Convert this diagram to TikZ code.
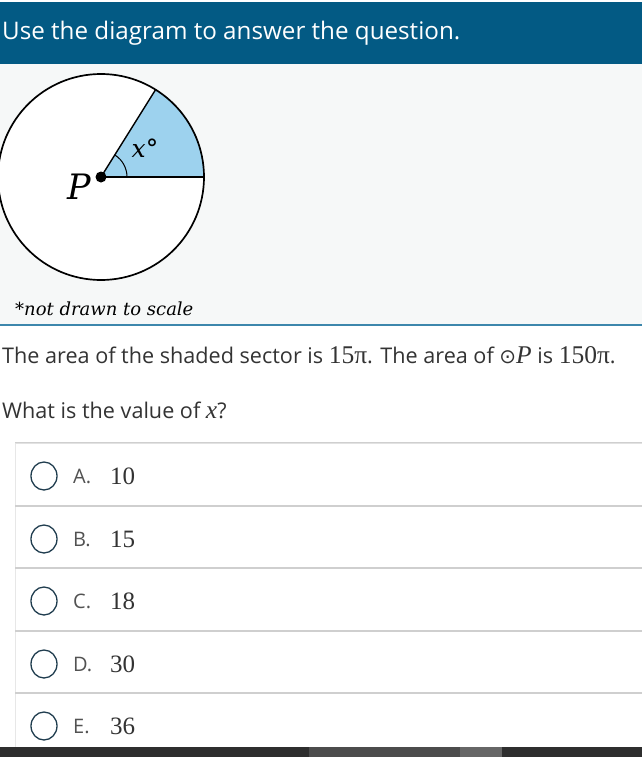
\documentclass[tikz,border=0pt]{standalone}
\usepackage{fontspec}
\setmainfont{Open Sans}
\newfontfamily\serifnum{Liberation Serif}
\newfontfamily\dvsans{DejaVu Sans}
\newfontfamily\dvserif{DejaVu Serif}
\usetikzlibrary{shapes.geometric,calc}
\definecolor{hdr}{HTML}{035A84}
\definecolor{figbg}{HTML}{F6F8F8}
\definecolor{rule}{HTML}{3D87AC}
\definecolor{sector}{HTML}{9DD2EE}
\definecolor{txt}{HTML}{333333}
\definecolor{radio}{HTML}{1F3C4E}
\definecolor{optline}{HTML}{CFCFCF}
\tikzset{
  bodytext/.style={anchor=base west, inner sep=0pt, text=txt, font=\fontsize{21.6}{24}\selectfont},
  mathnum/.style={font=\serifnum\fontsize{25.5}{28}\selectfont},
  letter/.style={anchor=base west, inner sep=0pt, text=txt!85, font=\fontsize{20}{22}\selectfont},
  num/.style={anchor=base west, inner sep=0pt, text=txt, font=\serifnum\fontsize{25}{28}\selectfont},
  radiobtn/.style={draw=radio, line width=1.3pt, ellipse, minimum width=26pt, minimum height=28pt, inner sep=0pt},
}
\newcommand{\mnum}[1]{{\serifnum\fontsize{25.5}{28}\selectfont #1}}
\newcommand{\mvar}[1]{{\serifnum\itshape\fontsize{25.5}{28}\selectfont #1}}
\begin{document}
\begin{tikzpicture}[x=1pt,y=-1pt]
\useasboundingbox (0,0) rectangle (642,757);
\fill[white] (0,0) rectangle (642,757);
% header
\fill[hdr] (0,2) rectangle (642,64);
\node[anchor=base west, inner sep=0pt, text=white, font=\fontsize{24.2}{28}\selectfont] (title) at (2,40) {Use the diagram to answer the question.};
% figure area
\fill[figbg] (0,64) rectangle (642,324);
\draw[rule, line width=2pt] (0,325) -- (642,325);
\coordinate (P) at (101,177);
\fill[sector] (P) -- ++(0:103) arc[start angle=0, end angle=-58, radius=103] -- cycle;
\fill[white] (P) -- ++(-58:103) arc[start angle=-58, end angle=-360, radius=103] -- cycle;
\draw[line width=1.7pt] (P) circle[radius=103];
\coordinate (R) at ($(P)+(0:103)$);
\coordinate (Q) at ($(P)+(-58:103)$);
\draw[line width=1.4pt] (P) -- (R);
\draw[line width=1.4pt] (P) -- (Q);
\draw[line width=1pt] ($(P)+(0:26)$) arc[start angle=0, end angle=-58, radius=26];
\fill (P) circle[radius=5.5];
\node[inner sep=0pt, font=\dvserif\itshape\fontsize{35}{38}\selectfont] (plabel) at (79,187) {P};
\node[inner sep=0pt, font=\dvserif\itshape\fontsize{25}{27}\selectfont] (xlabel) at (145,148) {x°};
\node[anchor=base west, inner sep=0pt, font=\dvserif\itshape\fontsize{18}{20}\selectfont] (note) at (15,315) {*not drawn to scale};
% question text
\node[bodytext] (q1) at (2,363) {The area of the shaded sector is \mnum{15π}. The area of {\dvsans\fontsize{20}{22}\selectfont ⊙}\mvar{P} is \mnum{150π}.};
\node[bodytext] (q2) at (2,418) {What is the value of \mvar{x}?};
% options
\draw[optline!50, line width=1pt] (15.5,443) -- (15.5,747);
\foreach \top/\name/\lab/\val in {443/A/A./10, 506/B/B./15, 568/C/C./18, 631/D/D./30, 693/E/E./36}{
  \draw[optline, line width=2pt] (15,\top) -- (642,\top);
  \node[radiobtn] (r\name) at (44,\top+33) {};
  \node[letter] (l\name) at (73,\top+40) {\lab};
  \node[num] (n\name) at (110,\top+41) {\val};
}
\draw[optline!60, line width=1pt] (15,443) -- (642,443);
% bottom bar
\fill[black!82] (0,747) rectangle (642,757);
\fill[black!70] (309,747) rectangle (460,757);
\fill[black!60] (460,747) rectangle (502,757);
\end{tikzpicture}
\end{document}
